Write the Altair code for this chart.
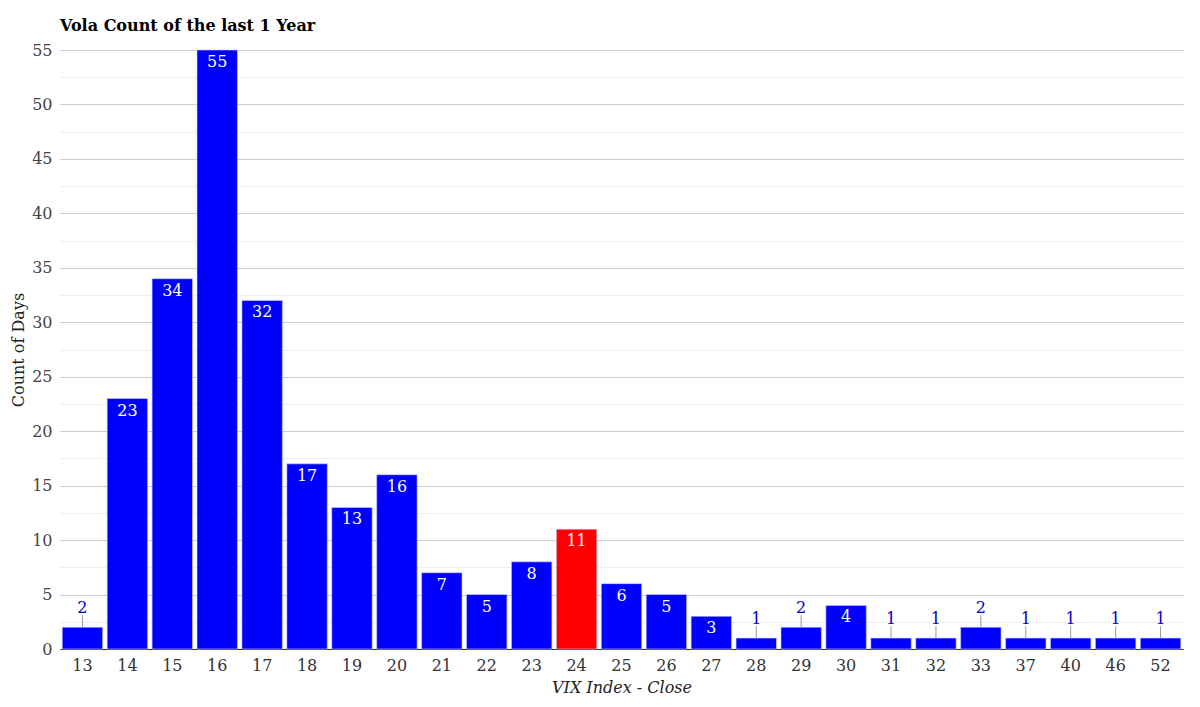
import altair as alt
import pandas as pd

vix = ["13","14","15","16","17","18","19","20","21","22","23","24","25",
       "26","27","28","29","30","31","32","33","37","40","46","52"]
counts = [2,23,34,55,32,17,13,16,7,5,8,11,6,5,3,1,2,4,1,1,2,1,1,1,1]
current = "24"

df = pd.DataFrame({"vix": vix, "count": counts})
df["cur"] = df["vix"] == current

FONT = "DejaVu Serif"

base = alt.Chart(df).encode(
    x=alt.X("vix:N", sort=vix, title="VIX Index - Close",
            scale=alt.Scale(paddingInner=0.1, paddingOuter=0.05),
            axis=alt.Axis(labelAngle=0, ticks=False, domainColor="#333",
                          labelPadding=8, labelFontSize=16, labelColor="#333",
                          titleFontSize=16, titleFontStyle="italic",
                          titleFontWeight="normal", titleColor="#222",
                          titlePadding=6, labelFont=FONT, titleFont=FONT)),
    y=alt.Y("count:Q", title="Count of Days",
            scale=alt.Scale(domain=[0, 55], nice=False),
            axis=alt.Axis(values=[i * 2.5 for i in range(23)],
                          labelExpr="datum.value % 5 === 0 ? datum.label : ''",
                          gridColor=alt.condition("datum.value % 5 === 0",
                                                  alt.value("#cccccc"),
                                                  alt.value("#eeeeee")),
                          domain=False, ticks=False, labelPadding=8,
                          labelFontSize=16, labelColor="#444",
                          titleFontSize=16, titleFontWeight="normal",
                          titleColor="#222", titlePadding=5,
                          labelFont=FONT, titleFont=FONT)),
)

bars = base.mark_bar(stroke="#ccccff", strokeWidth=0.6).encode(
    color=alt.condition("datum.cur", alt.value("#ff0000"), alt.value("#0000ff"))
)

inside = base.transform_filter("datum.count >= 3").mark_text(
    dy=12, baseline="middle", color="white", fontSize=16, font=FONT
).encode(text="count:Q")

outside = base.transform_filter("datum.count < 3").mark_text(
    dy=-19, baseline="middle", color="#0000cc", fontSize=16, font=FONT
).encode(text="count:Q")

leaders = base.transform_filter("datum.count < 3").mark_rule(
    color="#999999", strokeWidth=1, y2Offset=-12
).encode(y2="count:Q")

chart = alt.layer(bars, leaders, inside, outside).properties(
    width=1123, height=599,
    title=alt.TitleParams("Vola Count of the last 1 Year", anchor="start",
                          frame="group",
                          font=FONT, fontSize=16, fontWeight="bold",
                          color="#000", offset=8),
    autosize=alt.AutoSizeParams(type="none"),
    padding={"left": 52, "top": 42, "right": 9, "bottom": 50},
).configure_view(stroke=None)

chart.save("out.html", embed_options={"renderer": "svg", "actions": False})
